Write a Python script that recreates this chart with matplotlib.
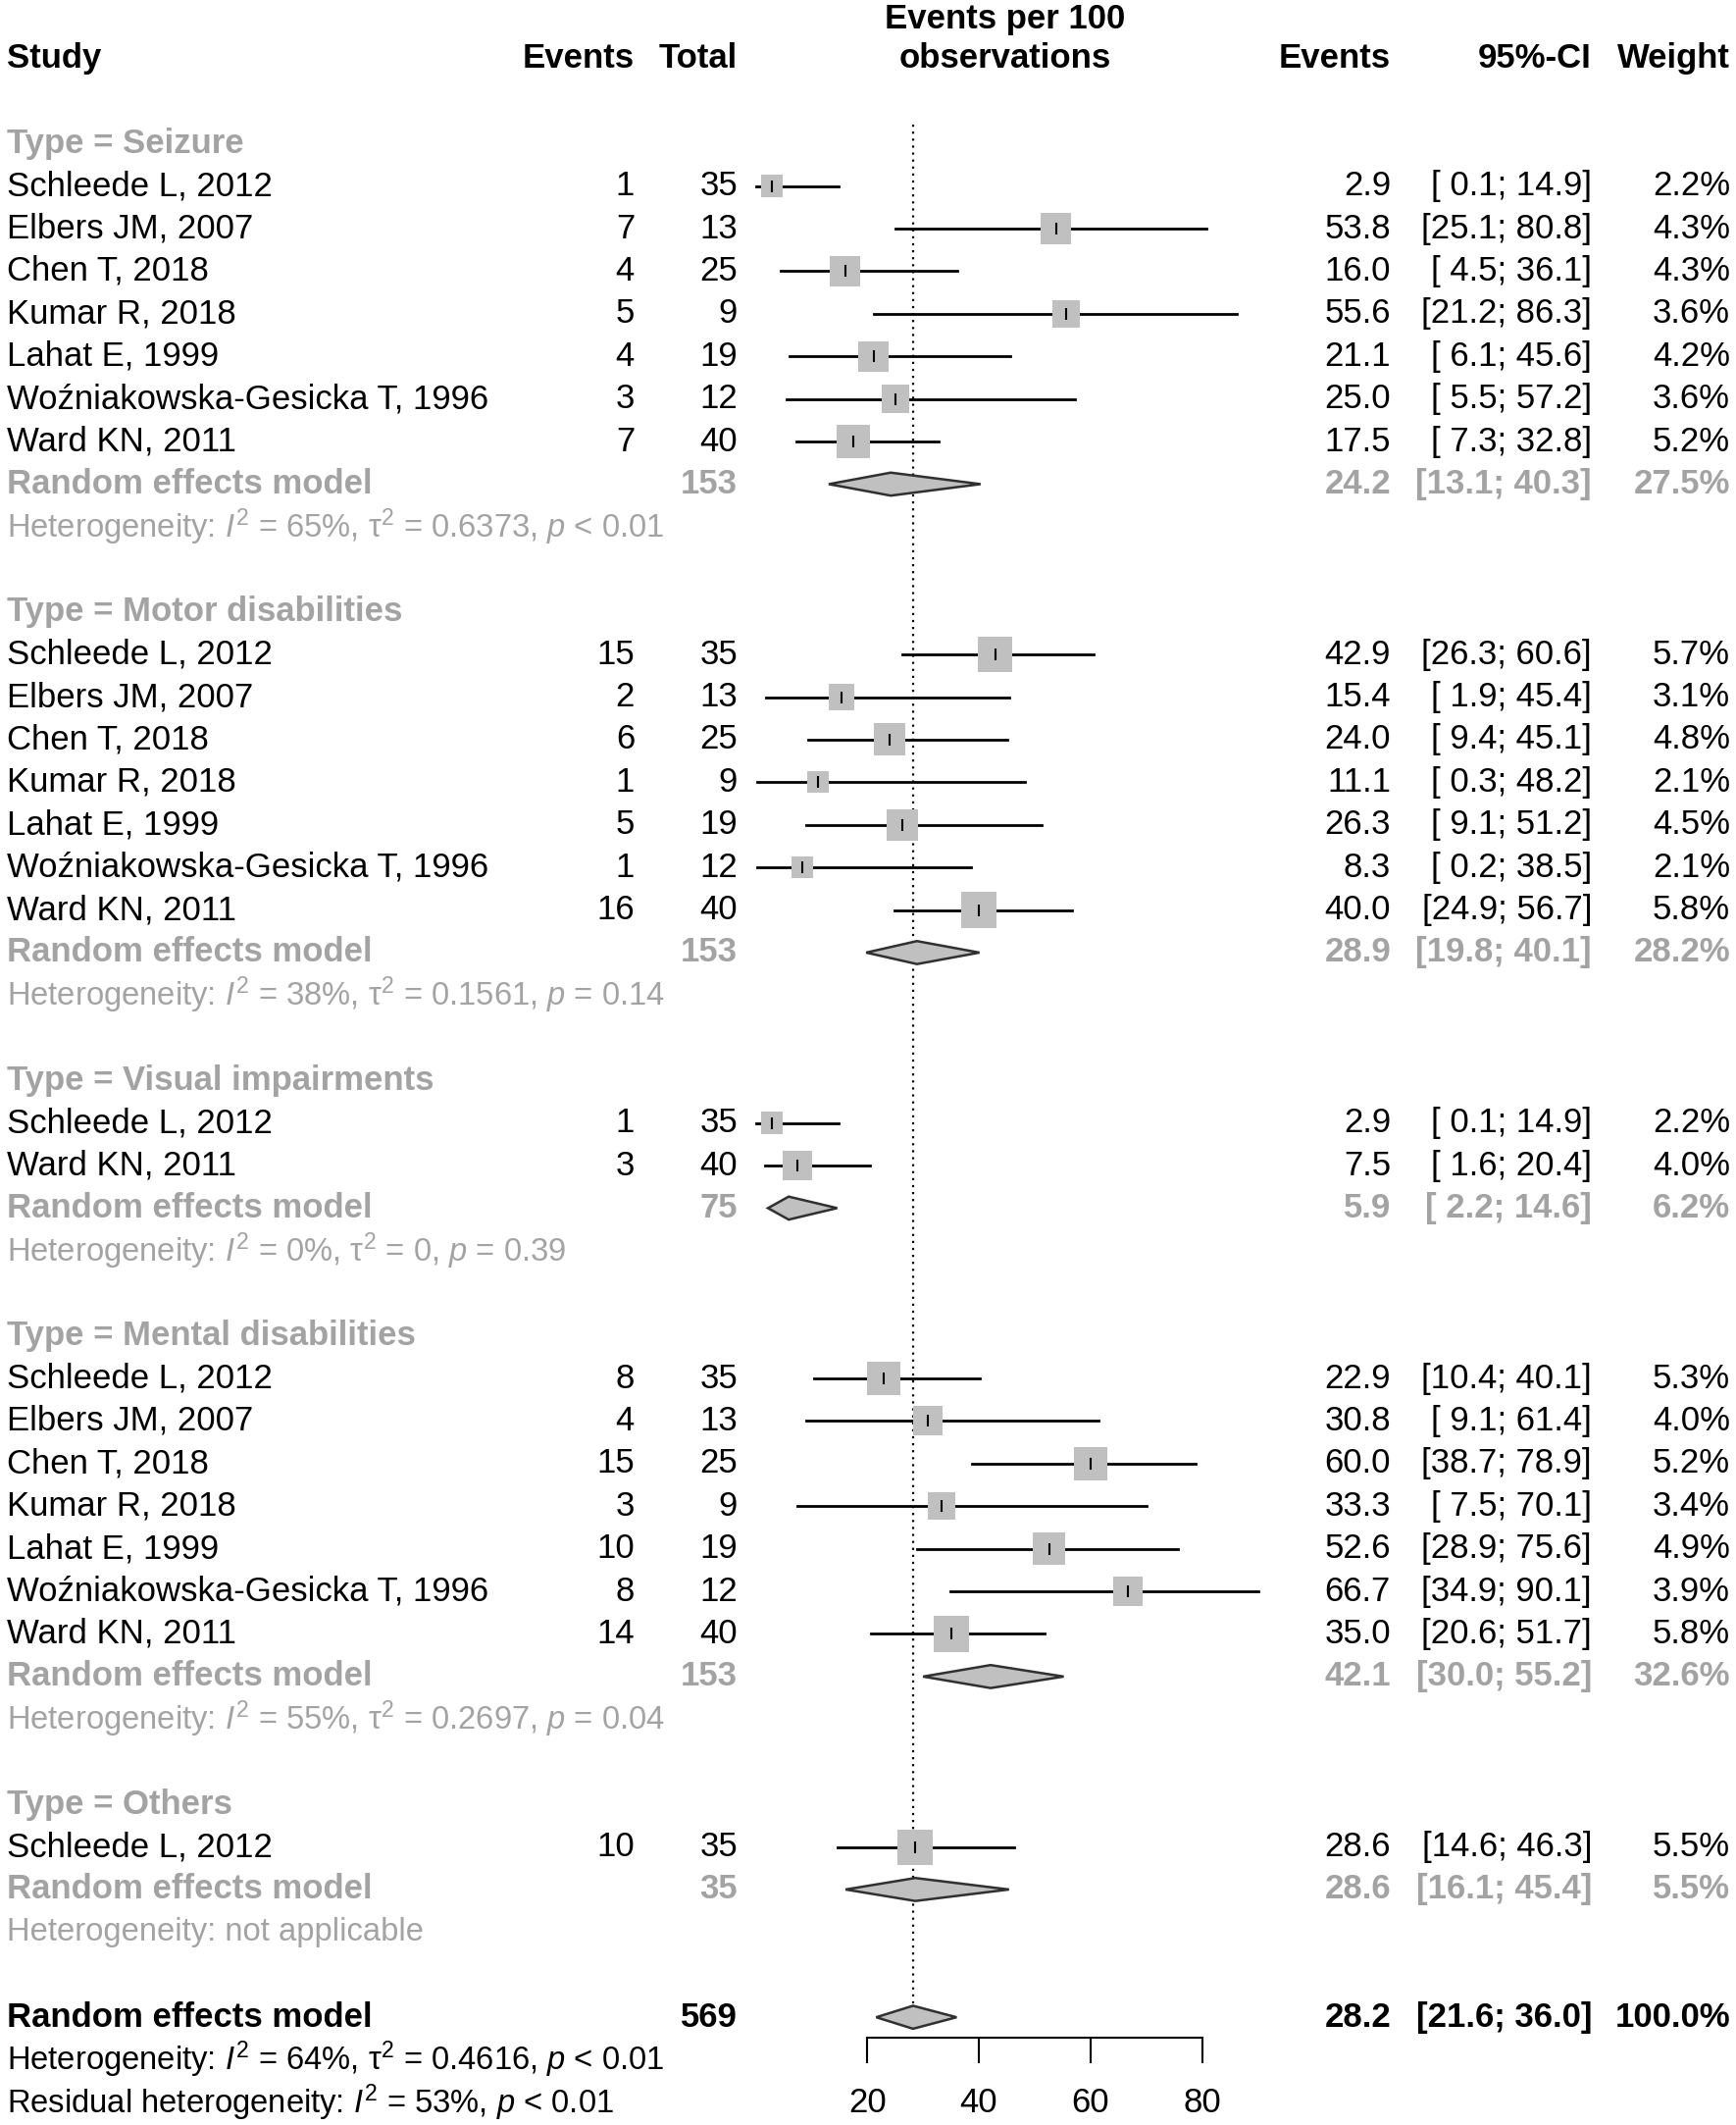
import numpy as np
import matplotlib
matplotlib.use("Agg")
import matplotlib.pyplot as plt
from matplotlib.patches import Polygon

plt.rcParams['font.family'] = ['Liberation Sans', 'DejaVu Sans']
plt.rcParams['mathtext.fontset'] = 'custom'
plt.rcParams['mathtext.rm'] = 'Liberation Sans'
plt.rcParams['mathtext.it'] = 'Liberation Sans:italic'
plt.rcParams['mathtext.bf'] = 'Liberation Sans:bold'

# ---- data ----
groups = ["Seizure", "Motor disabilities", "Visual impairments", "Mental disabilities", "Others"]
all_studies = ["Schleede L, 2012", "Elbers JM, 2007", "Chen T, 2018", "Kumar R, 2018",
               "Lahat E, 1999", "Woźniakowska-Gesicka T, 1996", "Ward KN, 2011"]
group_studies = [all_studies, all_studies, ["Schleede L, 2012", "Ward KN, 2011"],
                 all_studies, ["Schleede L, 2012"]]
group_events = [[1, 7, 4, 5, 4, 3, 7],
                [15, 2, 6, 1, 5, 1, 16],
                [1, 3],
                [8, 4, 15, 3, 10, 8, 14],
                [10]]
group_totals = [[35, 13, 25, 9, 19, 12, 40],
                [35, 13, 25, 9, 19, 12, 40],
                [35, 40],
                [35, 13, 25, 9, 19, 12, 40],
                [35]]
group_est = [[2.9, 53.8, 16.0, 55.6, 21.1, 25.0, 17.5],
             [42.9, 15.4, 24.0, 11.1, 26.3, 8.3, 40.0],
             [2.9, 7.5],
             [22.9, 30.8, 60.0, 33.3, 52.6, 66.7, 35.0],
             [28.6]]
group_lo = [[0.1, 25.1, 4.5, 21.2, 6.1, 5.5, 7.3],
            [26.3, 1.9, 9.4, 0.3, 9.1, 0.2, 24.9],
            [0.1, 1.6],
            [10.4, 9.1, 38.7, 7.5, 28.9, 34.9, 20.6],
            [14.6]]
group_hi = [[14.9, 80.8, 36.1, 86.3, 45.6, 57.2, 32.8],
            [60.6, 45.4, 45.1, 48.2, 51.2, 38.5, 56.7],
            [14.9, 20.4],
            [40.1, 61.4, 78.9, 70.1, 75.6, 90.1, 51.7],
            [46.3]]
group_weight = [[2.2, 4.3, 4.3, 3.6, 4.2, 3.6, 5.2],
                [5.7, 3.1, 4.8, 2.1, 4.5, 2.1, 5.8],
                [2.2, 4.0],
                [5.3, 4.0, 5.2, 3.4, 4.9, 3.9, 5.8],
                [5.5]]

# subgroup random effects
sub_total = [153, 153, 75, 153, 35]
sub_est = [24.2, 28.9, 5.9, 42.1, 28.6]
sub_lo = [13.1, 19.8, 2.2, 30.0, 16.1]
sub_hi = [40.3, 40.1, 14.6, 55.2, 45.4]
sub_weight = [27.5, 28.2, 6.2, 32.6, 5.5]
het_i2 = ["65", "38", "0", "55", None]
het_tau2 = ["0.6373", "0.1561", "0", "0.2697", None]
het_p = ["< 0.01", "= 0.14", "= 0.39", "= 0.04", None]

# overall
overall_total = 569
overall_est, overall_lo, overall_hi = 28.2, 21.6, 36.0
overall_i2, overall_tau2, overall_p = "64", "0.4616", "< 0.01"
resid_i2, resid_p = "53", "< 0.01"

xticks = [20, 40, 60, 80]

# ---- layout ----
W, H = 1770, 2166
FS = 25
FS_HET = 23.6
GRAY = "#a3a3a3"
BOX = "#c0c0c0"
ylim = (48.53, -1.368)

X_STUDY = 7
X_EV = 647
X_TOT = 752
X_EST = 1418
X_CI = 1623
X_WT = 1764
X_HEAD = 1025


def het_text(i2, tau2, p):
    s = rf"Heterogeneity: $\mathit{{I}}^{{2}}$ = {i2}%, "
    if tau2 is not None:
        s += rf"$\mathrm{{\tau}}^{{2}}$ = {tau2}, "
    s += rf"$\mathit{{p}}$ {p}"
    return s


def ci_text(lo, hi):
    return f"[{lo:4.1f}; {hi:4.1f}]"


def diamond(ax, row, est, lo, hi, h=0.27):
    pts = [(lo, row), (est, row - h), (hi, row), (est, row + h)]
    ax.add_patch(Polygon(pts, closed=True, facecolor=BOX, edgecolor="#303030",
                         lw=1.8, zorder=3))


fig = plt.figure(figsize=(W / 100, H / 100), dpi=100)
tx = fig.add_axes([0, 0, 1, 1])
tx.set_xlim(0, W)
tx.set_ylim(*ylim)
tx.axis("off")

left_px = 884.3 - 25 * 5.688
fx = fig.add_axes([left_px / W, 0, 100 * 5.688 / W, 1])
fx.set_xlim(-5, 95)
fx.set_ylim(*ylim)
fx.set_facecolor("none")
for s in ["left", "right", "top"]:
    fx.spines[s].set_visible(False)
fx.set_yticks([])

# header
tx.text(X_STUDY, 0, "Study", fontsize=FS, fontweight="bold", va="center")
tx.text(X_EV, 0, "Events", fontsize=FS, fontweight="bold", va="center", ha="right")
tx.text(X_TOT, 0, "Total", fontsize=FS, fontweight="bold", va="center", ha="right")
tx.text(X_HEAD, -0.93, "Events per 100", fontsize=FS, fontweight="bold", va="center", ha="center")
tx.text(X_HEAD, 0, "observations", fontsize=FS, fontweight="bold", va="center", ha="center")
tx.text(X_EST, 0, "Events", fontsize=FS, fontweight="bold", va="center", ha="right")
tx.text(X_CI, 0, "95%-CI", fontsize=FS, fontweight="bold", va="center", ha="right")
tx.text(X_WT, 0, "Weight", fontsize=FS, fontweight="bold", va="center", ha="right")

row = 2
for g in range(len(groups)):
    tx.text(X_STUDY, row, "Type = " + groups[g], fontsize=FS, fontweight="bold",
            color=GRAY, va="center")
    row += 1
    rows = []
    for i in range(len(group_studies[g])):
        tx.text(X_STUDY, row, group_studies[g][i], fontsize=FS, va="center")
        tx.text(X_EV, row, str(group_events[g][i]), fontsize=FS, va="center", ha="right")
        tx.text(X_TOT, row, str(group_totals[g][i]), fontsize=FS, va="center", ha="right")
        tx.text(X_EST, row, f"{group_est[g][i]:.1f}", fontsize=FS, va="center", ha="right")
        tx.text(X_CI, row, ci_text(group_lo[g][i], group_hi[g][i]), fontsize=FS,
                va="center", ha="right")
        tx.text(X_WT, row, f"{group_weight[g][i]:.1f}%", fontsize=FS, va="center", ha="right")
        fx.plot([group_lo[g][i], group_hi[g][i]], [row, row], color="black", lw=2.0, zorder=2)
        rows.append(row)
        row += 1
    side = 15 * np.sqrt(np.array(group_weight[g])) * 0.72
    fx.scatter(group_est[g], rows, s=side ** 2, marker="s", color=BOX, linewidths=0, zorder=2.5)
    fx.scatter(group_est[g], rows, s=9 ** 2, marker="|", color="black", linewidths=1.5, zorder=4)

    # subgroup pooled
    tx.text(X_STUDY, row, "Random effects model", fontsize=FS, fontweight="bold",
            color=GRAY, va="center")
    tx.text(X_TOT, row, str(sub_total[g]), fontsize=FS, fontweight="bold", color=GRAY,
            va="center", ha="right")
    tx.text(X_EST, row, f"{sub_est[g]:.1f}", fontsize=FS, fontweight="bold", color=GRAY,
            va="center", ha="right")
    tx.text(X_CI, row, ci_text(sub_lo[g], sub_hi[g]), fontsize=FS, fontweight="bold",
            color=GRAY, va="center", ha="right")
    tx.text(X_WT, row, f"{sub_weight[g]:.1f}%", fontsize=FS, fontweight="bold", color=GRAY,
            va="center", ha="right")
    diamond(fx, row, sub_est[g], sub_lo[g], sub_hi[g])
    row += 1
    if het_i2[g] is None:
        htxt = "Heterogeneity: not applicable"
    else:
        htxt = het_text(het_i2[g], het_tau2[g], het_p[g])
    tx.text(X_STUDY, row, htxt, fontsize=FS_HET, color=GRAY, va="center")
    row += 2

# overall
tx.text(X_STUDY, row, "Random effects model", fontsize=FS, fontweight="bold", va="center")
tx.text(X_TOT, row, str(overall_total), fontsize=FS, fontweight="bold", va="center", ha="right")
tx.text(X_EST, row, f"{overall_est:.1f}", fontsize=FS, fontweight="bold", va="center", ha="right")
tx.text(X_CI, row, ci_text(overall_lo, overall_hi), fontsize=FS, fontweight="bold",
        va="center", ha="right")
tx.text(X_WT, row, "100.0%", fontsize=FS, fontweight="bold", va="center", ha="right")
diamond(fx, row, overall_est, overall_lo, overall_hi)
overall_row = row
tx.text(X_STUDY, row + 1, het_text(overall_i2, overall_tau2, overall_p), fontsize=FS_HET,
        va="center")
tx.text(X_STUDY, row + 2,
        rf"Residual heterogeneity: $\mathit{{I}}^{{2}}$ = {resid_i2}%, $\mathit{{p}}$ {resid_p}",
        fontsize=FS_HET, va="center")

# reference line at pooled estimate
fx.plot([overall_est, overall_est], [1.55, overall_row - 0.27], color="black", lw=1.6,
        ls=(0, (1, 2.2)), zorder=1)

# x axis
fx.spines["bottom"].set_position(("data", overall_row + 0.47))
fx.spines["bottom"].set_bounds(xticks[0], xticks[-1])
fx.spines["bottom"].set_linewidth(1.5)
fx.set_xticks(xticks)
fx.set_xticklabels([str(t) for t in xticks])
fx.tick_params(axis="x", direction="out", length=19, width=1.5, labelsize=FS, pad=17)

fig.savefig("out.png", dpi=100)
